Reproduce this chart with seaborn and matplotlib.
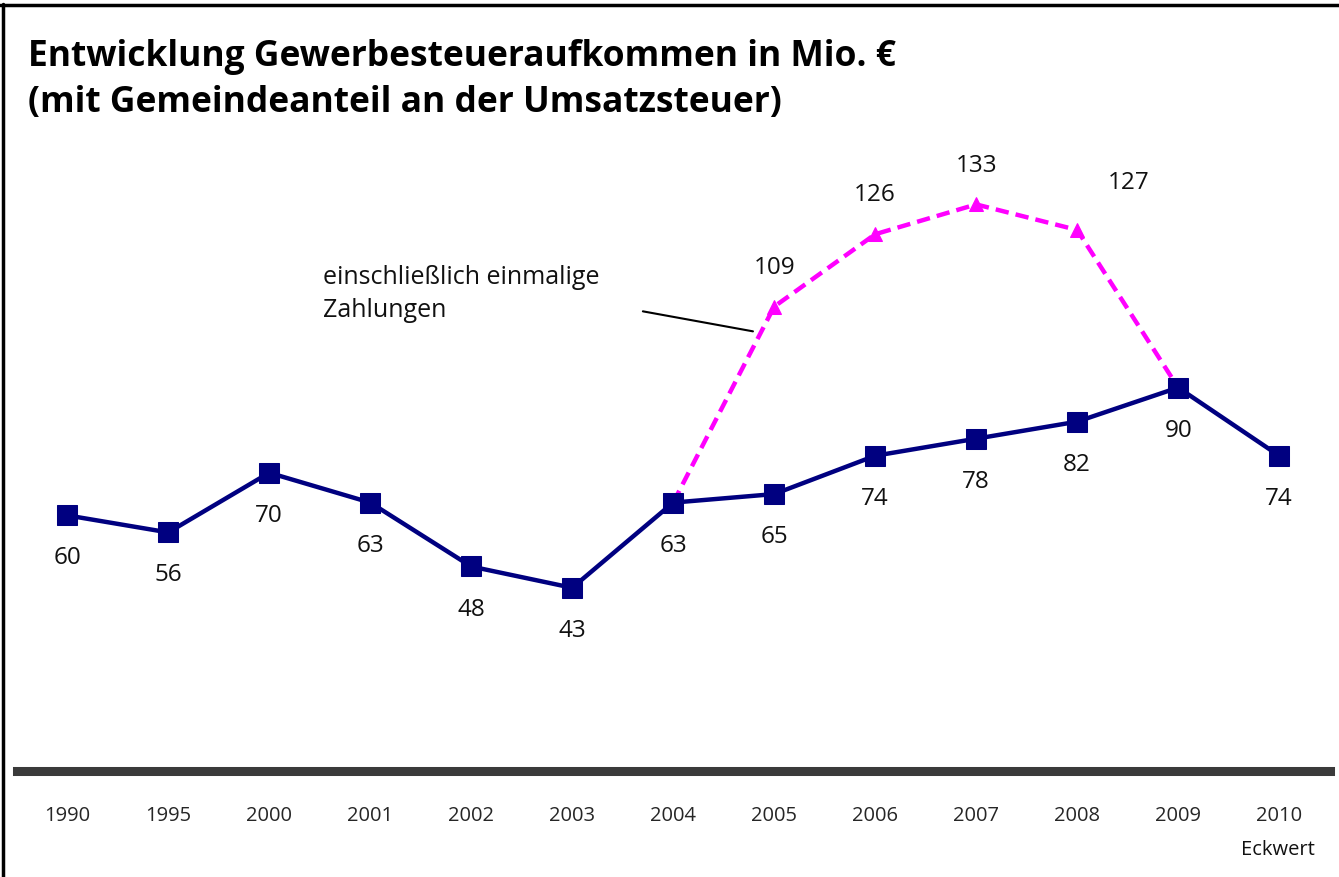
import numpy as np
import pandas as pd
import matplotlib.pyplot as plt
import seaborn as sns
from matplotlib.lines import Line2D

jahre = ['1990', '1995', '2000', '2001', '2002', '2003', '2004',
         '2005', '2006', '2007', '2008', '2009', '2010']
aufkommen = [60, 56, 70, 63, 48, 43, 63, 65, 74, 78, 82, 90, 74]

jahre_einmalig = ['2004', '2005', '2006', '2007', '2008', '2009']
aufkommen_einmalig = [63, 109, 126, 133, 127, 90]
labels_einmalig = ['', '109', '126', '133', '127', '']

sns.set_theme(style="white")
plt.rcParams['font.family'] = ['Open Sans', 'DejaVu Sans']

df = pd.DataFrame({'pos': np.arange(len(jahre)), 'wert': aufkommen})
pos_map = {j: i for i, j in enumerate(jahre)}
df2 = pd.DataFrame({'pos': [pos_map[j] for j in jahre_einmalig], 'wert': aufkommen_einmalig})

fig = plt.figure(figsize=(13.39, 8.77), dpi=100)
ax = fig.add_axes([0.0125, 0.1209, 0.9805, 0.7286])

sns.lineplot(data=df2, x='pos', y='wert', ax=ax, color='#FF00FF', lw=3.2,
             linestyle=(0, (3, 1.6)), marker='^', markersize=10,
             markeredgecolor='#FF00FF', zorder=2)
sns.lineplot(data=df, x='pos', y='wert', ax=ax, color='#000080', lw=3.2,
             marker='s', markersize=15, markeredgecolor='#000080', zorder=3)

for x, v in zip(df['pos'], df['wert']):
    ax.annotate(str(v), (x, v), xytext=(0, -31), textcoords='offset points',
                ha='center', va='center', fontsize=17.5, color='#111111')

for x, v, t in zip(df2['pos'], df2['wert'], labels_einmalig):
    if not t:
        continue
    dx = 37 if t == '127' else 0
    ax.annotate(t, (x, v), xytext=(dx, 28 if t != '127' else 34),
                textcoords='offset points', ha='center', va='center',
                fontsize=17.5, color='#111111')

ax.set_xlim(-0.5, 12.5)
ax.set_ylim(0, 150)
ax.set_xticks(df['pos'])
ax.set_xticklabels(jahre, fontsize=14.5)
ax.tick_params(axis='x', length=0, pad=25)
ax.set_yticks([])
ax.set_xlabel('')
ax.set_ylabel('')
for s in ['top', 'left', 'right']:
    ax.spines[s].set_visible(False)
ax.spines['bottom'].set_linewidth(6.5)
ax.spines['bottom'].set_color('#3a3a3a')

ax.text(12.35, -18.5, 'Eckwert', ha='right', va='center', fontsize=14.5, color='#111111')

ax.text(2.53, 112, 'einschließlich einmalige\nZahlungen', ha='left', va='center',
        fontsize=18, color='#111111', linespacing=1.4)
ax.plot([5.70, 6.79], [107.9, 103.2], color='black', lw=1.5)

fig.text(0.021, 0.909, 'Entwicklung Gewerbesteueraufkommen in Mio. €\n(mit Gemeindeanteil an der Umsatzsteuer)',
         ha='left', va='center', fontsize=25.5, fontweight='bold', color='black', linespacing=1.38)

fig.add_artist(Line2D([0.0025, 0.0025], [0, 0.995], transform=fig.transFigure, color='black', lw=2.5))
fig.add_artist(Line2D([0, 1], [0.994, 0.994], transform=fig.transFigure, color='black', lw=2.5))

fig.savefig('out.png', dpi=100, facecolor='white')
